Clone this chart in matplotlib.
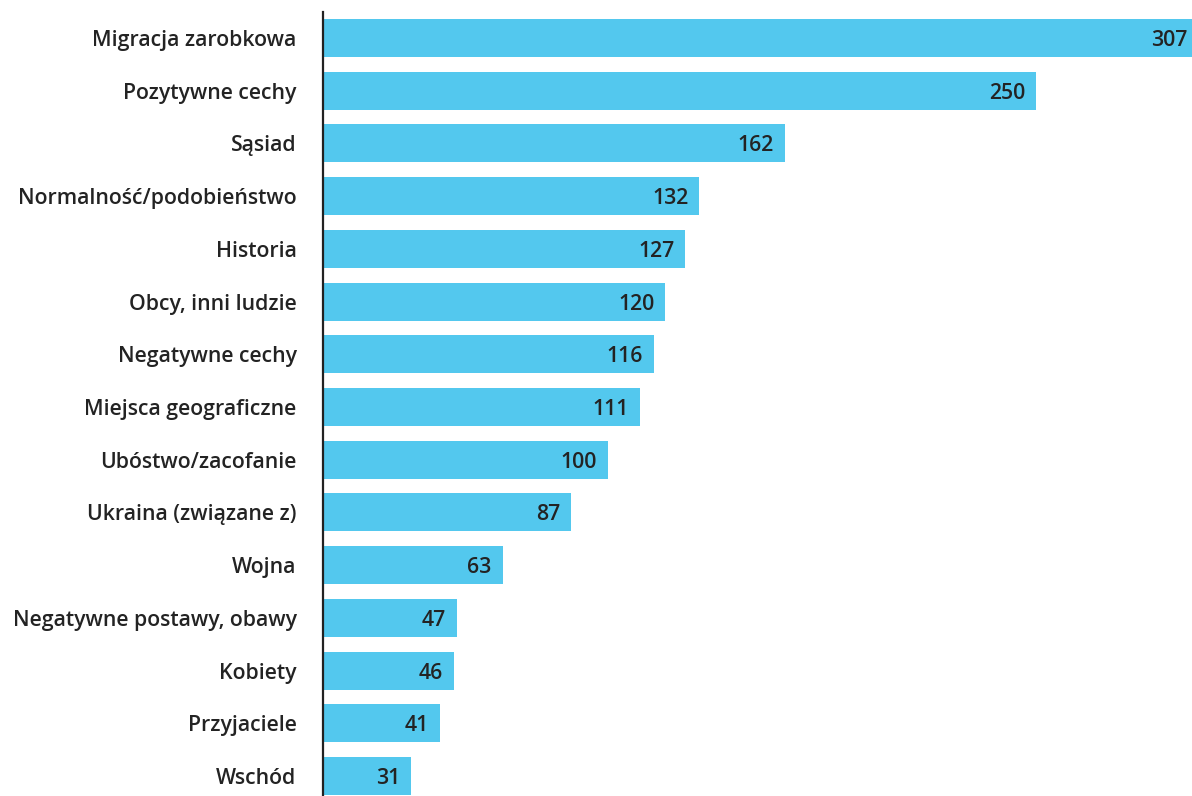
import matplotlib
matplotlib.use("Agg")
import matplotlib.pyplot as plt

categories = [
    "Migracja zarobkowa", "Pozytywne cechy", "Sąsiad", "Normalność/podobieństwo",
    "Historia", "Obcy, inni ludzie", "Negatywne cechy", "Miejsca geograficzne",
    "Ubóstwo/zacofanie", "Ukraina (związane z)", "Wojna",
    "Negatywne postawy, obawy", "Kobiety", "Przyjaciele", "Wschód",
]
values = [307, 250, 162, 132, 127, 120, 116, 111, 100, 87, 63, 47, 46, 41, 31]

BAR = "#53C8EE"
TXT = "#232323"
W, H = 1192, 796

plt.rcParams['font.family'] = ['Open Sans', 'DejaVu Sans']
fig = plt.figure(figsize=(W / 100, H / 100), dpi=100)
left, right = 323, 1192
top, bottom = 12, 796
ax = fig.add_axes([left / W, 1 - bottom / H, (right - left) / W, (bottom - top) / H])

pos = list(range(len(values)))
ax.barh(pos, values, height=0.72, color=BAR, zorder=1)
ax.set_xlim(0, (right - left) / 2.852)
ax.set_ylim(14.38, -0.493)

ax.set_yticks(pos)
ax.set_yticklabels(categories, fontsize=15.3, fontweight='semibold', color=TXT)
ax.tick_params(axis='y', length=0, pad=19)
ax.set_xticks([])
for s in ['top', 'right', 'bottom']:
    ax.spines[s].set_visible(False)
ax.spines['left'].set_linewidth(1.6)
ax.spines['left'].set_color('#222222')
ax.spines['left'].set_zorder(3)

for p, v in zip(pos, values):
    ax.annotate(str(v), xy=(v, p), xytext=(-11, 0), textcoords='offset pixels',
                ha='right', va='center_baseline', fontsize=15.3, fontweight='semibold',
                color=TXT, annotation_clip=False, zorder=4)

fig.savefig("out.png", dpi=100)
